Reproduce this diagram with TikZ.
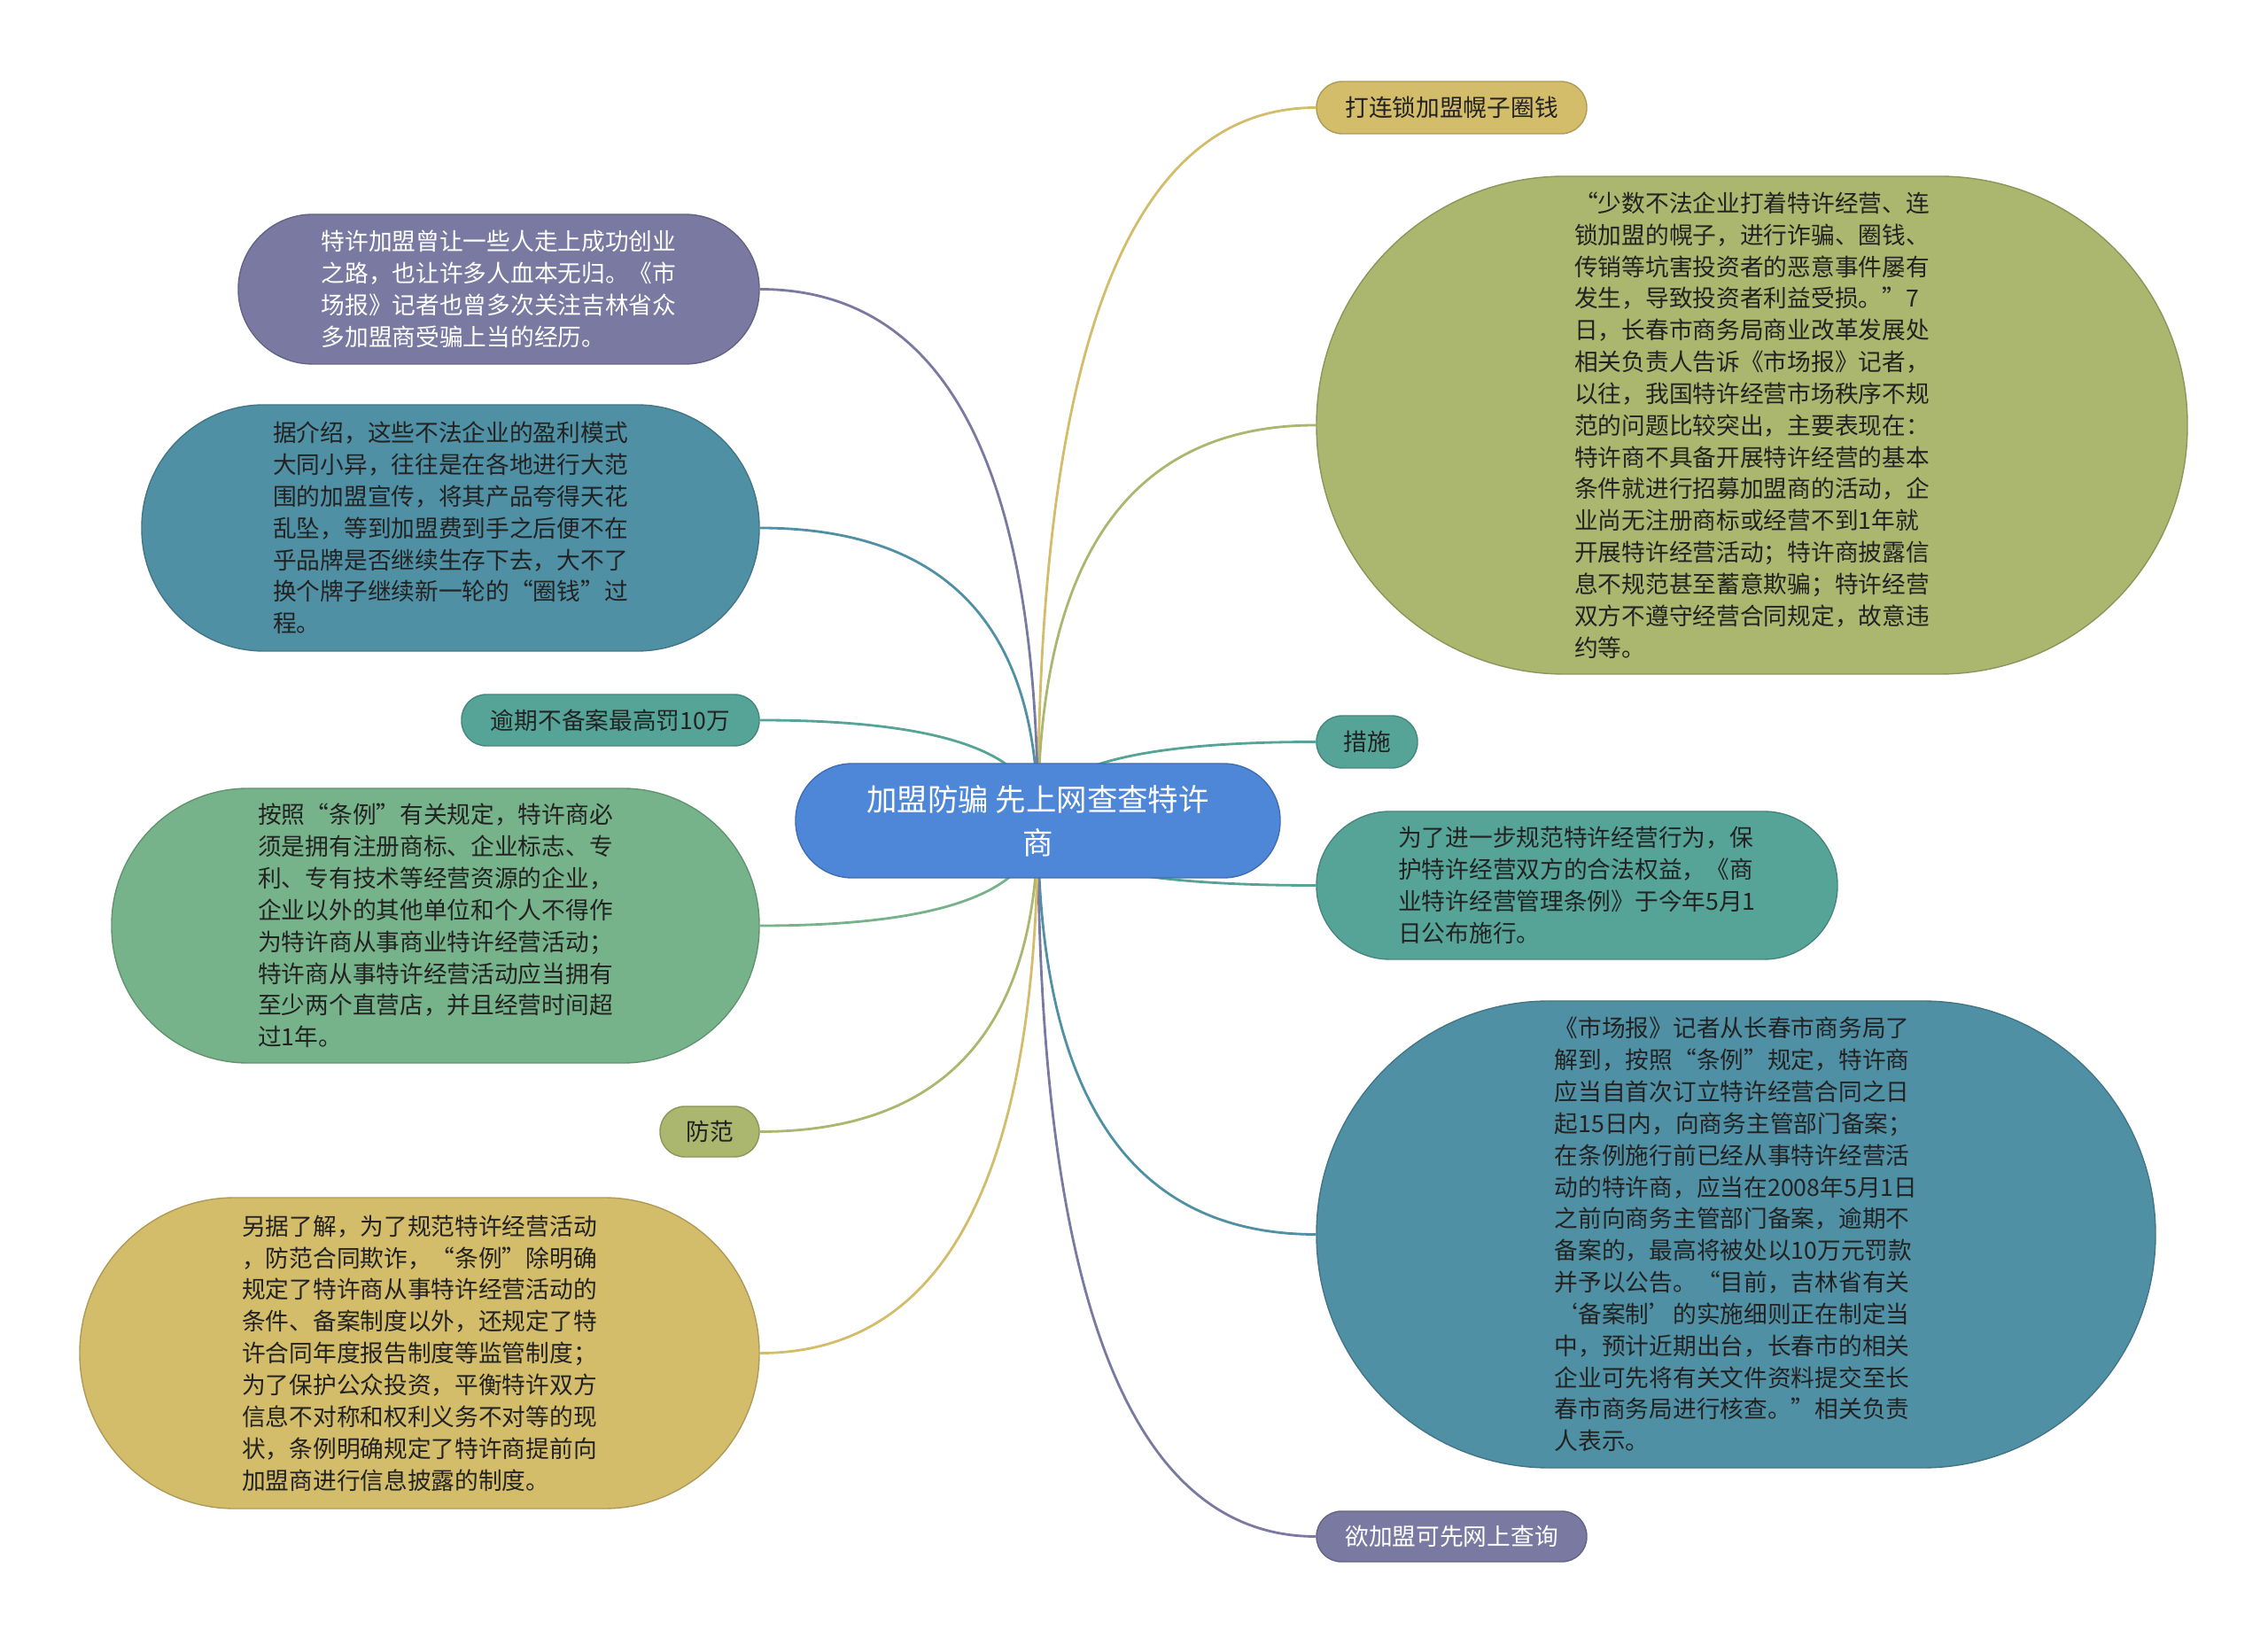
\documentclass[tikz,border=0pt]{standalone}
\usepackage{fontspec}
\setmainfont{Noto Sans CJK SC}
\definecolor{rootblue}{RGB}{78, 134, 216}
\definecolor{tan1}{RGB}{211, 189, 106}
\definecolor{olive1}{RGB}{171, 182, 110}
\definecolor{purple1}{RGB}{122, 121, 162}
\definecolor{petrol1}{RGB}{80, 144, 164}
\definecolor{teal1}{RGB}{86, 164, 152}
\definecolor{green1}{RGB}{119, 179, 138}
\definecolor{ink}{RGB}{34, 34, 34}
\usepackage{tikz}
\usetikzlibrary{backgrounds, calc}

\tikzset{
  topic/.style={draw=#1!82!black, fill=#1, line width=0.4pt, inner sep=0pt, align=left, text=ink,
    font=\fontsize{7.6}{10.2}\selectfont},
  link/.style={draw=#1, line width=0.8pt},
}

\begin{document}
\begin{tikzpicture}
  \useasboundingbox (0,0) rectangle (25.6,-18.57);

  % Central topic
  \node[topic=rootblue, text=white, align=center, font=\fontsize{9.8}{13.9}\selectfont,
    minimum width=5.47cm, minimum height=1.29cm, rounded corners=0.64cm] (root) at (11.715,-9.265)
    {加盟防骗 先上网查查特许\\商};

  % Right side
  \node[topic=tan1, minimum width=3.05cm, minimum height=0.59cm, rounded corners=0.29cm] (lock) at (16.385,-1.215)
    {打连锁加盟幌子圈钱};
  \node[topic=olive1, minimum width=9.83cm, minimum height=5.62cm, rounded corners=2.8cm] (abuse) at (19.775,-4.80) {
    “少数不法企业打着特许经营、连\\
    锁加盟的幌子，进行诈骗、圈钱、\\
    传销等坑害投资者的恶意事件屡有\\
    发生，导致投资者利益受损。”7\\
    日，长春市商务局商业改革发展处\\
    相关负责人告诉《市场报》记者，\\
    以往，我国特许经营市场秩序不规\\
    范的问题比较突出，主要表现在：\\
    特许商不具备开展特许经营的基本\\
    条件就进行招募加盟商的活动，企\\
    业尚无注册商标或经营不到1年就\\
    开展特许经营活动；特许商披露信\\
    息不规范甚至蓄意欺骗；特许经营\\
    双方不遵守经营合同规定，故意违\\
    约等。
  };
  \node[topic=teal1, minimum width=1.14cm, minimum height=0.59cm, rounded corners=0.29cm] (measure) at (15.43,-8.375)
    {措施};
  \node[topic=teal1, minimum width=5.88cm, minimum height=1.67cm, rounded corners=0.83cm] (rules) at (17.80,-9.995) {
    为了进一步规范特许经营行为，保\\
    护特许经营双方的合法权益，《商\\
    业特许经营管理条例》于今年5月1\\
    日公布施行。
  };
  \node[topic=petrol1, minimum width=9.47cm, minimum height=5.27cm, rounded corners=2.63cm] (filing) at (19.595,-13.935) {
    《市场报》记者从长春市商务局了\\
    解到，按照“条例”规定，特许商\\
    应当自首次订立特许经营合同之日\\
    起15日内，向商务主管部门备案；\\
    在条例施行前已经从事特许经营活\\
    动的特许商，应当在2008年5月1日\\
    之前向商务主管部门备案，逾期不\\
    备案的，最高将被处以10万元罚款\\
    并予以公告。“目前，吉林省有关\\
    ‘备案制’的实施细则正在制定当\\
    中，预计近期出台，长春市的相关\\
    企业可先将有关文件资料提交至长\\
    春市商务局进行核查。”相关负责\\
    人表示。
  };
  \node[topic=purple1, text=white, minimum width=3.05cm, minimum height=0.57cm, rounded corners=0.28cm] (query) at (16.385,-17.345)
    {欲加盟可先网上查询};

  % Left side
  \node[topic=purple1, text=white, minimum width=5.88cm, minimum height=1.69cm, rounded corners=0.84cm] (history) at (5.63,-3.265) {
    特许加盟曾让一些人走上成功创业\\
    之路，也让许多人血本无归。《市\\
    场报》记者也曾多次关注吉林省众\\
    多加盟商受骗上当的经历。
  };
  \node[topic=petrol1, minimum width=6.97cm, minimum height=2.78cm, rounded corners=1.38cm] (model) at (5.085,-5.96) {
    据介绍，这些不法企业的盈利模式\\
    大同小异，往往是在各地进行大范\\
    围的加盟宣传，将其产品夸得天花\\
    乱坠，等到加盟费到手之后便不在\\
    乎品牌是否继续生存下去，大不了\\
    换个牌子继续新一轮的“圈钱”过\\
    程。
  };
  \node[topic=teal1, minimum width=3.36cm, minimum height=0.58cm, rounded corners=0.28cm] (fine) at (6.89,-8.13)
    {逾期不备案最高罚10万};
  \node[topic=green1, minimum width=7.31cm, minimum height=3.10cm, rounded corners=1.54cm] (terms) at (4.915,-10.45) {
    按照“条例”有关规定，特许商必\\
    须是拥有注册商标、企业标志、专\\
    利、专有技术等经营资源的企业，\\
    企业以外的其他单位和个人不得作\\
    为特许商从事商业特许经营活动；\\
    特许商从事特许经营活动应当拥有\\
    至少两个直营店，并且经营时间超\\
    过1年。
  };
  \node[topic=olive1, minimum width=1.12cm, minimum height=0.57cm, rounded corners=0.28cm] (guard) at (8.01,-12.775)
    {防范};
  \node[topic=tan1, minimum width=7.67cm, minimum height=3.51cm, rounded corners=1.75cm] (disclose) at (4.735,-15.275) {
    另据了解，为了规范特许经营活动\\
    ，防范合同欺诈，“条例”除明确\\
    规定了特许商从事特许经营活动的\\
    条件、备案制度以外，还规定了特\\
    许合同年度报告制度等监管制度；\\
    为了保护公众投资，平衡特许双方\\
    信息不对称和权利义务不对等的现\\
    状，条例明确规定了特许商提前向\\
    加盟商进行信息披露的制度。
  };

  % Links behind the topics (quadratic bends)
  \begin{scope}[on background layer]
    \foreach \n/\c in {lock/tan1, abuse/olive1, measure/teal1, rules/teal1, filing/petrol1, query/purple1}
      \draw[link=\c] (root.center)
        .. controls ($(root.center)!0.667!(root.center |- \n.west)$) and ($(\n.west)!0.667!(root.center |- \n.west)$)
        .. (\n.west);
    \foreach \n/\c in {history/purple1, model/petrol1, fine/teal1, terms/green1, guard/olive1, disclose/tan1}
      \draw[link=\c] (root.center)
        .. controls ($(root.center)!0.667!(root.center |- \n.east)$) and ($(\n.east)!0.667!(root.center |- \n.east)$)
        .. (\n.east);
  \end{scope}
\end{tikzpicture}
\end{document}
